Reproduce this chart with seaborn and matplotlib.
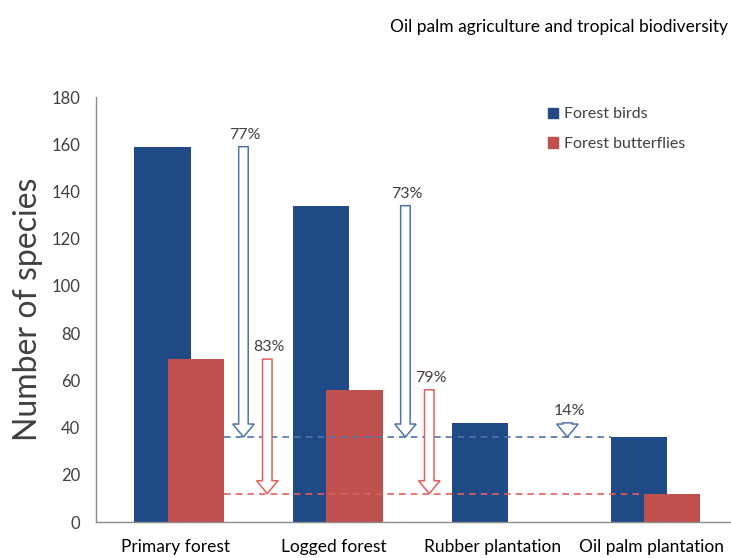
import numpy as np
import pandas as pd
import seaborn as sns
import matplotlib.pyplot as plt
from matplotlib.patches import FancyArrow
from matplotlib.patches import Patch

# Data
categories = ["Primary forest", "Logged forest", "Rubber plantation", "Oil palm plantation"]
birds = [159, 134, 42, 36]
butterflies = [69, 56, np.nan, 12]

# Colours
BLUE = "#1F4A86"
RED = "#C0504D"
BLUE_LINE = "#4F74A8"
RED_LINE = "#E0605C"
TEXT = "#404040"

sns.set_theme(style="white")
plt.rcParams["font.family"] = ["Lato", "DejaVu Sans"]

pos = np.arange(len(categories))
bar_w = 0.355
off_b, off_r = -0.08, 0.13

df_b = pd.DataFrame({"x": pos + off_b, "y": birds})
df_r = pd.DataFrame({"x": pos + off_r, "y": butterflies}).dropna()

fig = plt.figure(figsize=(7.31, 5.58), dpi=100)
ax = fig.add_axes([0.131, 0.0645, 0.869, 0.7615])

sns.barplot(data=df_b, x="x", y="y", native_scale=True, width=bar_w,
            color=BLUE, saturation=1, errorbar=None, linewidth=0, ax=ax)
sns.barplot(data=df_r, x="x", y="y", native_scale=True, width=bar_w,
            color=RED, saturation=1, errorbar=None, linewidth=0, ax=ax)

# reference lines at the oil palm values
base_b, base_r = birds[-1], butterflies[-1]
ax.hlines(base_b, off_r + bar_w / 2, 3 + off_b - bar_w / 2, colors=BLUE_LINE,
          linestyles=(0, (4, 3)), lw=1.2, zorder=1)
ax.hlines(base_r, off_r + bar_w / 2, 3 + off_r - bar_w / 2, colors=RED_LINE,
          linestyles=(0, (4, 3)), lw=1.2, zorder=1)

# hollow arrows showing the loss relative to oil palm
def drop_arrow(x, top, bottom, color, label):
    arr = FancyArrow(x, top, 0, bottom - top, width=0.06, head_width=0.135,
                     head_length=5.5, length_includes_head=True,
                     facecolor="white", edgecolor=color, lw=1.1, zorder=3)
    ax.add_patch(arr)
    ax.text(x + 0.01, top + 2, label, ha="center", va="bottom",
            fontsize=11.5, color=TEXT)

arrow_x_b = [0.43, 1.45, 2.47]
arrow_x_r = [0.58, 1.60]
for i, x in enumerate(arrow_x_b):
    pct = round(100 * (1 - base_b / birds[i]))
    drop_arrow(x, birds[i], base_b, BLUE_LINE, f"{pct}%")
for i, x in enumerate(arrow_x_r):
    pct = round(100 * (1 - base_r / butterflies[i]))
    drop_arrow(x, butterflies[i], base_r, RED_LINE, f"{pct}%")

# axes styling
ax.set_xlim(-0.5, 3.5)
ax.set_ylim(0, 180)
ax.set_yticks(range(0, 181, 20))
ax.set_xticks(pos)
ax.set_xticklabels(categories, fontsize=12.5, color="black")
ax.set_xticks(pos[1:] + 0.5, minor=True)
ax.tick_params(axis="x", which="major", length=0, pad=12)
ax.tick_params(axis="x", which="minor", length=5, color="#888888", width=1)
ax.tick_params(axis="y", length=5, color="#888888", width=1, labelsize=12,
               labelcolor=TEXT, pad=6)
ax.tick_params(axis="both", direction="out")
for side in ["top", "right"]:
    ax.spines[side].set_visible(False)
for side in ["left", "bottom"]:
    ax.spines[side].set_color("#8c8c8c")
    ax.spines[side].set_linewidth(1)
ax.set_xlabel("")
ax.set_ylabel("Number of species", fontsize=23, color=TEXT, labelpad=6)

handles = [Patch(color=BLUE), Patch(color=RED)]
ax.legend(handles, ["Forest birds", "Forest butterflies"], loc="upper left",
          bbox_to_anchor=(0.69, 1.01), frameon=False, fontsize=11.5,
          handlelength=0.6, handleheight=0.6, handletextpad=0.4,
          labelspacing=1.0, labelcolor=TEXT)

fig.text(0.996, 0.952, "Oil palm agriculture and tropical biodiversity",
         ha="right", va="center", fontsize=12.5, color="black")

fig.savefig("out.png", dpi=100)
